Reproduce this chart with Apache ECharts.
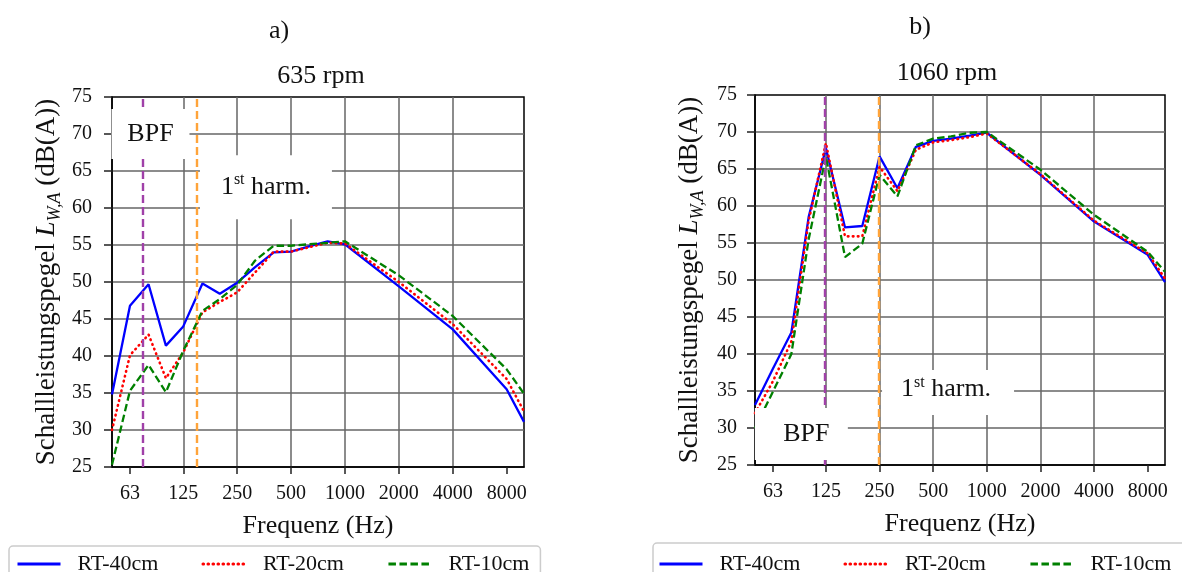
<!DOCTYPE html>
<html>
<head>
<meta charset="utf-8">
<script src="https://cdn.jsdelivr.net/npm/echarts@6/dist/echarts.min.js"></script>
<style>
  html, body { margin: 0; padding: 0; background: #fff; }
  #chart { width: 1182px; height: 572px; }
</style>
</head>
<body>
<div id="chart"></div>
<script>
// Third-octave band centres (Hz), octave bands above 1 kHz
const bandFreqs = [50, 63, 80, 100, 125, 160, 200, 250, 315, 400, 500, 630, 800, 1000, 2000, 4000, 8000, 10000];
const tickFreqs = [63, 125, 250, 500, 1000, 2000, 4000, 8000];
const tickLabels = ['63', '125', '250', '500', '1000', '2000', '4000', '8000'];
const seriesNames = ['RT-40cm', 'RT-20cm', 'RT-10cm'];

// Sound power level L_W,A in dB(A) at 635 rpm
const rt40_635 = [34.8, 46.8, 49.7, 41.4, 44.0, 49.8, 48.4, 49.9, 52.0, 54.0, 54.1, 54.8, 55.5, 55.1, 49.4, 43.6, 35.5, 31.1];
const rt20_635 = [30.0, 40.1, 42.9, 37.0, 40.5, 45.9, 47.3, 48.6, 51.3, 54.1, 54.1, 54.7, 55.3, 55.2, 50.0, 44.3, 36.9, 32.5];
const rt10_635 = [25.3, 35.3, 38.8, 35.1, 40.7, 46.1, 47.7, 49.6, 52.9, 54.9, 54.9, 55.1, 55.3, 55.5, 50.9, 45.4, 38.2, 34.9];

// Sound power level L_W,A in dB(A) at 1060 rpm
const rt40_1060 = [33.1, 38.0, 42.9, 58.5, 67.8, 57.1, 57.3, 66.7, 62.4, 68.0, 68.8, 69.1, 69.5, 69.9, 64.2, 57.9, 53.4, 49.7];
const rt20_1060 = [32.0, 36.3, 41.7, 58.0, 68.5, 55.9, 55.9, 65.3, 62.0, 67.6, 68.6, 68.9, 69.3, 69.8, 64.3, 58.0, 53.6, 50.2];
const rt10_1060 = [30.0, 34.9, 40.0, 55.5, 66.7, 53.1, 54.9, 64.2, 61.3, 68.2, 69.1, 69.4, 69.9, 70.0, 64.9, 58.8, 53.8, 51.1];

const panelLetters = ['a)', 'b)'];
const rpmTitles = ['635 rpm', '1060 rpm'];
// Blade passing frequency and its first harmonic (Hz)
const bpfFreqs = [74.1, 123.7];
const harmFreqs = [148.2, 247.3];

const FONT = 'Liberation Serif';
const TXT = '#111';
const oct = f => Math.log2(f);   // log-frequency axis position

const colors = ['#0000ff', '#ff0000', '#008000'];
const lineTypes = ['solid', [0.6, 4.4], [7.5, 3.5]];
const lineCaps = ['butt', 'round', 'butt'];
const lineWidths = [2.3, 2.6, 2.3];

function tickLabelFor(v) {
  for (let i = 0; i < tickFreqs.length; i++) {
    if (Math.abs(oct(tickFreqs[i]) - v) < 1e-6) return tickLabels[i];
  }
  return '';
}

const grids = [
  { left: 112, top: 97, width: 412, height: 370 },
  { left: 755, top: 95, width: 410, height: 370 }
];

function makeXAxis(gi) {
  return {
    type: 'value', gridIndex: gi,
    min: oct(bandFreqs[0]), max: oct(bandFreqs[bandFreqs.length - 1]),
    axisLine: { show: true, onZero: false, lineStyle: { color: '#000', width: 1.5 } },
    axisTick: { show: true, inside: false, length: 7, customValues: tickFreqs.map(oct),
                lineStyle: { color: '#222', width: 1.5 } },
    axisLabel: { customValues: tickFreqs.map(oct), formatter: tickLabelFor,
                 fontFamily: FONT, fontSize: 20, color: TXT, margin: 17 },
    splitLine: { show: true, showMinLine: false, showMaxLine: false,
                 lineStyle: { color: '#666666', width: 1.5 } },
    name: 'Frequenz (Hz)', nameLocation: 'middle', nameGap: 46,
    nameTextStyle: { fontFamily: FONT, fontSize: 26, color: TXT }
  };
}

function makeYAxis(gi) {
  return {
    type: 'value', gridIndex: gi, min: 25, max: 75, interval: 5,
    axisLine: { show: true, onZero: false, lineStyle: { color: '#000', width: 1.5 } },
    axisTick: { show: true, inside: false, length: 8, lineStyle: { color: '#222', width: 1.5 } },
    axisLabel: { fontFamily: FONT, fontSize: 20, color: TXT, margin: gi === 0 ? 20 : 18 },
    splitLine: { show: true, showMinLine: false, showMaxLine: false,
                 lineStyle: { color: '#666666', width: 1.5 } },
    name: 'Schallleistungspegel {it|L}{sub|W,A} (dB(A))',
    nameLocation: 'middle', nameGap: 48,
    nameTextStyle: {
      fontFamily: FONT, fontSize: 27, color: TXT, lineHeight: 35,
      rich: {
        it: { fontFamily: FONT, fontSize: 27, fontStyle: 'italic', color: TXT },
        sub: { fontFamily: FONT, fontSize: 18, fontStyle: 'italic', color: TXT,
               verticalAlign: 'bottom', lineHeight: 18 }
      }
    }
  };
}

const levelSets = [
  [rt40_635, rt20_635, rt10_635],
  [rt40_1060, rt20_1060, rt10_1060]
];

// Text annotations with their white backing boxes
const annotations = [
  [
    { text: 'BPF', freq: 82, level: 70, box: [78, 50], offset: [0, 0] },
    { text: '1{sup|st} harm.', freq: 362, level: 62.8, box: [132, 64], offset: [0, 0] }
  ],
  [
    { text: 'BPF', freq: 91, level: 29.2, box: [93, 52], offset: [5, 0] },
    { text: '1{sup|st} harm.', freq: 606, level: 34.8, box: [132, 45], offset: [-2, -3] }
  ]
];

const series = [];
[0, 1].forEach(gi => {
  // reference lines for BPF and 1st harmonic
  series.push({
    type: 'line', name: 'guides' + gi, xAxisIndex: gi, yAxisIndex: gi, data: [],
    z: 1, silent: true,
    markLine: {
      silent: true, symbol: ['none', 'none'], animation: false,
      label: { show: false },
      data: [
        { xAxis: oct(bpfFreqs[gi]), lineStyle: { color: '#a040a8', width: 2.4, type: [8, 4] } },
        { xAxis: oct(harmFreqs[gi]), lineStyle: { color: '#ffa43a', width: 2.4, type: [8, 4] } }
      ]
    }
  });
  // white text boxes
  series.push({
    type: 'line', name: 'notes' + gi, xAxisIndex: gi, yAxisIndex: gi, data: [],
    z: 2, silent: true,
    markPoint: {
      silent: true, animation: false,
      data: annotations[gi].map(a => ({
        coord: [oct(a.freq), a.level],
        symbol: 'rect', symbolSize: a.box,
        itemStyle: { color: '#ffffff' },
        label: {
          show: true, position: 'inside', offset: a.offset,
          formatter: a.text,
          fontFamily: FONT, fontSize: 26, color: TXT, lineHeight: 30,
          rich: { sup: { fontFamily: FONT, fontSize: 16, color: TXT, verticalAlign: 'top', lineHeight: 16 } }
        }
      }))
    }
  });
  levelSets[gi].forEach((vals, si) => {
    series.push({
      type: 'line', name: seriesNames[si], xAxisIndex: gi, yAxisIndex: gi,
      data: bandFreqs.map((f, i) => [oct(f), vals[i]]),
      symbol: 'none', showSymbol: false, z: 3 + si * 0.1,
      lineStyle: { color: colors[si], width: lineWidths[si], type: lineTypes[si], cap: lineCaps[si] },
      itemStyle: { color: colors[si] }
    });
  });
});

const legendCommon = {
  data: seriesNames, orient: 'horizontal', itemWidth: 43, itemHeight: 14, itemGap: 43,
  borderColor: '#cccccc', borderWidth: 1.5, borderRadius: 4, backgroundColor: '#fff',
  itemStyle: { opacity: 0 },
  lineStyle: { width: 3 },
  textStyle: { fontFamily: FONT, fontSize: 22, color: TXT, width: 84, padding: [0, 0, 0, 12] },
  selectedMode: false
};

const option = {
  animation: false,
  backgroundColor: '#fff',
  title: [
    { text: panelLetters[0], left: 274, top: 13, textAlign: 'center',
      textStyle: { fontFamily: FONT, fontSize: 26, fontWeight: 'normal', color: TXT } },
    { text: panelLetters[1], left: 915, top: 9, textAlign: 'center',
      textStyle: { fontFamily: FONT, fontSize: 26, fontWeight: 'normal', color: TXT } },
    { text: rpmTitles[0], left: 316, top: 58, textAlign: 'center',
      textStyle: { fontFamily: FONT, fontSize: 26, fontWeight: 'normal', color: TXT } },
    { text: rpmTitles[1], left: 942, top: 55, textAlign: 'center',
      textStyle: { fontFamily: FONT, fontSize: 26, fontWeight: 'normal', color: TXT } }
  ],
  grid: grids.map(g => Object.assign({ show: true, borderColor: '#000', borderWidth: 1.5,
                                        backgroundColor: 'transparent' }, g)),
  xAxis: [makeXAxis(0), makeXAxis(1)],
  yAxis: [makeYAxis(0), makeYAxis(1)],
  legend: [
    Object.assign({}, legendCommon, { left: 9, top: 546, padding: [7, 11, 12, 7] }),
    Object.assign({}, legendCommon, { left: 653, top: 543, width: 540, padding: [10, 30, 12, 5] })
  ],
  series: series
};

const chart = echarts.init(document.getElementById('chart'), null, { renderer: 'canvas' });
chart.setOption(option);
</script>
</body>
</html>
